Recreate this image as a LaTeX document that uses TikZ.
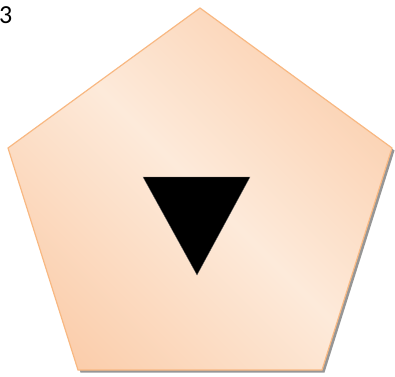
\documentclass[tikz,border=0pt]{standalone}
\usepackage{fontspec}
\setmainfont{Carlito}
\definecolor{pdark}{RGB}{250,196,156}
\definecolor{plight}{RGB}{253,234,218}
\definecolor{pborder}{RGB}{248,184,130}
\definecolor{pshadow}{RGB}{150,150,150}
\pgfdeclarehorizontalshading{peachband}{100bp}{color(0bp)=(pdark); color(12bp)=(pdark); color(50bp)=(plight); color(88bp)=(pdark); color(100bp)=(pdark)}
\tikzset{
  pentfill/.style={shading=peachband, shading angle=45, draw=pborder, line width=1.2pt, line join=miter},
  pentshadow/.style={fill=pshadow, draw=none},
  tri/.style={fill=black, draw=black!60, line width=0.3pt},
  numlabel/.style={font=\fontsize{26}{30}\selectfont, inner sep=0pt, anchor=north west}
}
\begin{document}
\begin{tikzpicture}[x=1pt,y=1pt]
\useasboundingbox (0,0) rectangle (395,376);
\coordinate (T) at (200,368);
\coordinate (R) at (392,228);
\coordinate (BR) at (322,6);
\coordinate (BL) at (78,6);
\coordinate (L) at (8,228);
\fill[pentshadow] ([shift={(2.5,-2.5)}]T) -- ([shift={(2.5,-2.5)}]R) -- ([shift={(2.5,-2.5)}]BR) -- ([shift={(2.5,-2.5)}]BL) -- ([shift={(2.5,-2.5)}]L) -- cycle;
\path[pentfill] (T) -- (R) -- (BR) -- (BL) -- (L) -- cycle;
\coordinate (A) at (143,199);
\coordinate (B) at (250,199);
\coordinate (C) at (197,101);
\path[tri] (A) -- (B) -- (C) -- cycle;
\node[numlabel] (n3) at (-1,370) {3};
\end{tikzpicture}
\end{document}
